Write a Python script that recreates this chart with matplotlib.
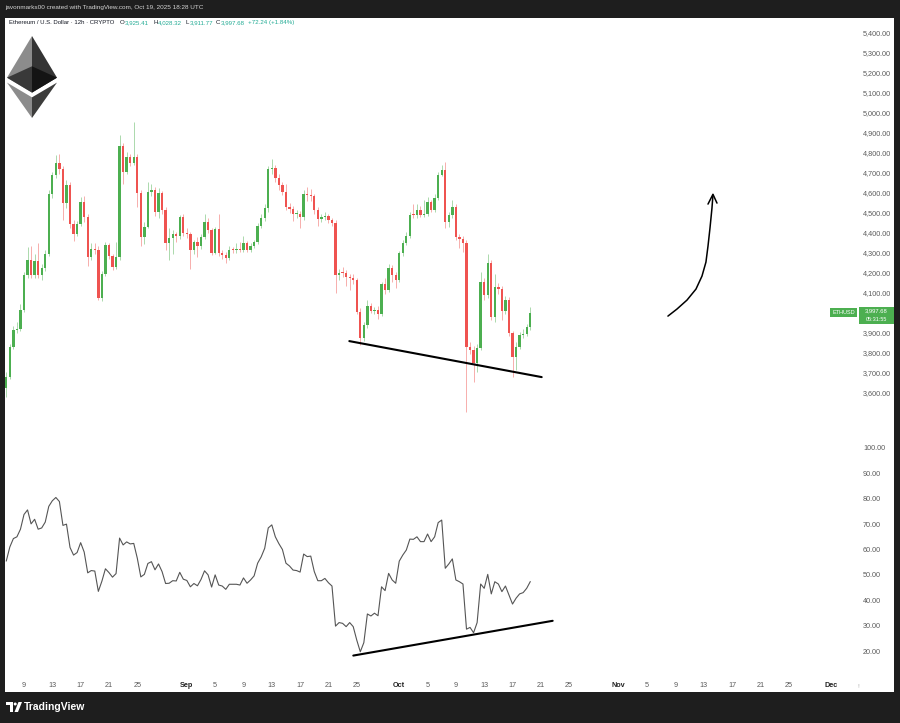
#!/usr/bin/env python3
"""ETH/USD 12h candles with RSI pane, TradingView-style snapshot."""

import matplotlib
matplotlib.use('Agg')
import matplotlib.pyplot as plt
from matplotlib.patches import Rectangle, Polygon, Circle
import numpy as np
import pandas as pd

plt.rcParams['font.family'] = ['Liberation Sans', 'DejaVu Sans']

# ---------------------------------------------------------------------------
# Data
# ---------------------------------------------------------------------------
FIRST_CANDLE = '2025-08-06 12:00'   # 12h candles
FIRST_OPEN = 3620

CLOSE = [3678, 3828, 3911, 3915, 4012, 4187, 4262, 4185, 4255, 4185,
         4220, 4292, 4590, 4687, 4748, 4715, 4548, 4637, 4441, 4391,
         4441, 4553, 4475, 4275, 4315, 4313, 4073, 4192, 4336, 4280,
         4225, 4275, 4831, 4703, 4778, 4745, 4778, 4598, 4375, 4428,
         4603, 4610, 4503, 4595, 4512, 4345, 4370, 4391, 4380, 4478,
         4395, 4390, 4312, 4350, 4330, 4375, 4452, 4410, 4298, 4418,
         4298, 4285, 4270, 4312, 4310, 4314, 4312, 4345, 4312, 4330,
         4350, 4430, 4470, 4520, 4715, 4720, 4670, 4637, 4603, 4528,
         4515, 4490, 4492, 4475, 4592, 4588, 4580, 4511, 4465, 4477,
         4480, 4462, 4448, 4187, 4198, 4196, 4175, 4170, 4160, 4003,
         3870, 3935, 4031, 4007, 4010, 3990, 4142, 4110, 4220, 4185,
         4160, 4294, 4345, 4382, 4487, 4485, 4513, 4487, 4490, 4553,
         4513, 4570, 4687, 4712, 4453, 4487, 4528, 4375, 4365, 4345,
         3828, 3810, 3745, 3820, 4153, 4085, 4245, 3975, 4128, 4115,
         4005, 4062, 3895, 3778, 3828, 3887, 3893, 3925.41, 3997.68]

HIGH = [3700, 3840, 3930, 3950, 4040, 4200, 4328, 4330, 4290, 4346,
        4240, 4310, 4610, 4700, 4786, 4790, 4730, 4660, 4650, 4460,
        4455, 4575, 4580, 4490, 4345, 4345, 4330, 4205, 4350, 4345,
        4290, 4350, 4886, 4845, 4800, 4790, 4953, 4790, 4610, 4450,
        4650, 4640, 4625, 4620, 4605, 4525, 4420, 4410, 4400, 4485,
        4490, 4420, 4400, 4360, 4375, 4390, 4490, 4470, 4420, 4425,
        4490, 4310, 4300, 4330, 4325, 4345, 4350, 4380, 4355, 4345,
        4360, 4445, 4490, 4540, 4730, 4765, 4735, 4690, 4650, 4640,
        4545, 4530, 4510, 4505, 4610, 4625, 4615, 4590, 4525, 4490,
        4500, 4490, 4470, 4460, 4215, 4225, 4210, 4190, 4190, 4170,
        4020, 3950, 4060, 4045, 4025, 4030, 4150, 4170, 4240, 4235,
        4200, 4305, 4360, 4400, 4500, 4540, 4540, 4530, 4560, 4575,
        4560, 4590, 4700, 4737, 4753, 4500, 4560, 4540, 4390, 4380,
        4360, 3850, 3830, 3840, 4200, 4170, 4290, 4260, 4190, 4145,
        4130, 4080, 4075, 3905, 3850, 3900, 3915, 3940, 4028.32]

LOW = [3578, 3665, 3815, 3895, 3905, 4000, 4170, 4170, 4170, 4170,
       4160, 4205, 4280, 4570, 4670, 4690, 4461, 4520, 4420, 4355,
       4380, 4430, 4450, 4231, 4260, 4290, 4060, 4055, 4180, 4265,
       4210, 4215, 4260, 4640, 4690, 4730, 4735, 4527, 4331, 4340,
       4420, 4580, 4480, 4470, 4490, 4310, 4260, 4290, 4350, 4365,
       4380, 4370, 4217, 4290, 4275, 4315, 4365, 4395, 4285, 4290,
       4280, 4265, 4245, 4260, 4295, 4295, 4300, 4300, 4300, 4300,
       4320, 4340, 4420, 4455, 4500, 4690, 4650, 4610, 4585, 4510,
       4495, 4455, 4470, 4420, 4460, 4555, 4555, 4490, 4430, 4450,
       4460, 4445, 4430, 4095, 4160, 4175, 4130, 4110, 4140, 3990,
       3836, 3855, 3920, 3995, 3990, 3965, 3980, 4090, 4100, 4150,
       4120, 4150, 4280, 4335, 4370, 4470, 4470, 4475, 4475, 4480,
       4500, 4500, 4560, 4680, 4420, 4425, 4470, 4360, 4320, 4300,
       3503, 3790, 3653, 3700, 3810, 4060, 4070, 3960, 3950, 4090,
       3960, 3990, 3880, 3678, 3710, 3815, 3870, 3880, 3911.77]

RSI = [55.5, 61.0, 64.3, 65.0, 68.0, 73.8, 75.6, 70.1, 71.9, 68.0,
       68.5, 70.8, 77.0, 79.2, 80.5, 78.9, 69.5, 70.0, 60.8, 57.8,
       58.8, 62.7, 59.0, 50.8, 51.7, 51.5, 43.5, 47.5, 52.4, 50.9,
       49.1, 50.5, 64.5, 61.8, 63.0, 62.2, 62.4, 56.6, 49.2, 50.2,
       54.5, 55.2, 52.0, 54.3, 51.3, 46.6, 46.7, 47.7, 47.6, 51.0,
       48.3, 47.8, 45.3, 46.6, 45.7, 48.2, 51.6, 50.0, 45.2, 50.0,
       46.0, 45.6, 44.3, 46.3, 46.3, 46.3, 46.0, 48.8, 46.7, 48.0,
       49.6, 54.6, 57.1, 60.5, 68.5, 69.7, 65.0, 62.3, 60.0, 54.6,
       53.5, 51.9, 51.7, 51.1, 58.2, 57.2, 57.4, 51.3, 47.7, 47.7,
       48.6, 46.9, 45.6, 29.8, 31.2, 30.9, 29.6, 31.2, 29.6, 24.3,
       19.7, 23.3, 34.6, 33.8, 34.9, 33.9, 45.3, 43.8, 50.6, 48.0,
       46.7, 55.4, 57.8, 59.8, 64.1, 64.0, 65.0, 63.1, 63.1, 66.1,
       63.1, 65.0, 70.6, 71.6, 52.6, 54.3, 56.3, 48.0, 47.3, 46.4,
       28.6, 29.3, 27.2, 31.2, 46.4, 44.7, 50.2, 42.5, 47.3, 46.4,
       43.4, 45.6, 42.1, 38.5, 40.8, 42.5, 43.0, 44.7, 47.3]

# 4,000 is hidden behind the last-price tag on the original
PRICE_TICKS = [3600, 3700, 3800, 3900, 4100, 4200, 4300, 4400, 4500, 4600,
               4700, 4800, 4900, 5000, 5100, 5200, 5300, 5400]
RSI_TICKS = [20, 30, 40, 50, 60, 70, 80, 90, 100]

TICK_DATES = ['2025-08-09', '2025-08-13', '2025-08-17', '2025-08-21', '2025-08-25',
              '2025-09-01', '2025-09-05', '2025-09-09', '2025-09-13', '2025-09-17',
              '2025-09-21', '2025-09-25', '2025-10-01', '2025-10-05', '2025-10-09',
              '2025-10-13', '2025-10-17', '2025-10-21', '2025-10-25', '2025-11-01',
              '2025-11-05', '2025-11-09', '2025-11-13', '2025-11-17', '2025-11-21',
              '2025-11-25', '2025-12-01']
TICK_LABELS = ['9', '13', '17', '21', '25', 'Sep', '5', '9', '13', '17', '21', '25',
               'Oct', '5', '9', '13', '17', '21', '25', 'Nov', '5', '9', '13', '17',
               '21', '25', 'Dec']
MONTHS = {'Sep', 'Oct', 'Nov', 'Dec'}

# drawings (x in days since 2025-08-01 00:00 UTC)
PRICE_TREND_DAY = [53.95, 81.12]
PRICE_TREND_VAL = [3856, 3676]
RSI_TREND_DAY = [54.51, 82.67]
RSI_TREND_VAL = [18.2, 31.9]
ARROW_DAY = [98.95, 100.22, 101.64, 102.91, 103.76, 104.32, 104.61, 104.89, 105.17, 105.31]
ARROW_VAL = [3981, 4016, 4061, 4116, 4181, 4251, 4331, 4421, 4521, 4586]
ARROW_HEAD_DAY = [104.61, 105.31, 105.88]
ARROW_HEAD_VAL = [4541, 4590, 4546]

HEADER = 'Ethereum / U.S. Dollar · 12h · CRYPTO'
OHLC_NAMES = ['O', 'H', 'L', 'C']
OHLC_TEXT = ['3,925.41', '4,028.32', '3,911.77', '3,997.68']
CHANGE_TEXT = '+72.24 (+1.84%)'
STAMP = 'javonmarks00 created with TradingView.com, Oct 19, 2025 18:28 UTC'

# ---------------------------------------------------------------------------
# Styling
# ---------------------------------------------------------------------------
UP = '#4caf50'
DOWN = '#ef5350'
TEAL = '#22ab94'
FRAME = '#1e1e1e'
LABEL = '#5a5a5a'
W, H = 900, 723
EPOCH = pd.Timestamp('2025-08-01')


def day(ts):
    return (pd.to_datetime(ts) - EPOCH) / pd.Timedelta(days=1)


def rect(x0, y0, x1, y1):
    # pixel box (origin top-left) -> figure fraction
    return [x0 / W, 1 - y1 / H, (x1 - x0) / W, (y1 - y0) / H]


def pixel_axes(z):
    a = fig.add_axes([0, 0, 1, 1], zorder=z)
    a.set_xlim(0, W)
    a.set_ylim(H, 0)
    a.axis('off')
    a.patch.set_visible(False)
    return a


fig = plt.figure(figsize=(W / 100, H / 100), dpi=100, facecolor=FRAME)

# background canvas in pixel coordinates
bg = pixel_axes(0)
bg.add_patch(Rectangle((5, 18), 889, 674, facecolor='white', edgecolor='none'))

# pixel <-> day mapping: Aug 9 sits at x=24, 7.08 px per day
x_lo = day('2025-08-09') - 19 / 7.08
x_hi = day('2025-08-09') + 836 / 7.08

ax = fig.add_axes(rect(5, 18, 860, 440), zorder=2)
axr = fig.add_axes(rect(5, 440, 860, 676), zorder=2, sharex=ax)
for a in (ax, axr):
    a.set_facecolor('none')
    for s in a.spines.values():
        s.set_visible(False)
    a.yaxis.tick_right()
    a.tick_params(axis='y', length=0, pad=2.2, labelsize=5.2, labelcolor=LABEL)

# ---------------------------------------------------------------------------
# Candles
# ---------------------------------------------------------------------------
close = np.array(CLOSE, dtype=float)
opens = np.r_[FIRST_OPEN, close[:-1]]
high = np.array(HIGH, dtype=float)
low = np.array(LOW, dtype=float)
times = pd.date_range(FIRST_CANDLE, periods=len(close), freq='12h')
xs = day(times).values
cols = np.where(close >= opens, UP, DOWN)

ax.vlines(xs, low, high, colors=cols, linewidth=0.6, alpha=0.55, zorder=2)
ax.bar(xs, np.maximum(np.abs(close - opens), 4), bottom=np.minimum(opens, close),
       width=0.33, color=cols, linewidth=0, zorder=3)

ax.plot(PRICE_TREND_DAY, PRICE_TREND_VAL, color='black', lw=1.5, solid_capstyle='round', zorder=4)
ax.plot(ARROW_DAY, ARROW_VAL, color='black', lw=1.1, solid_capstyle='round', zorder=4)
ax.plot(ARROW_HEAD_DAY, ARROW_HEAD_VAL, color='black', lw=1.1, solid_capstyle='round',
        solid_joinstyle='round', zorder=4)

ax.set_xlim(x_lo, x_hi)
ax.set_ylim(3361.5, 5471.5)
ax.set_yticks(PRICE_TICKS)
ax.set_yticklabels([f'{v:,.2f}' for v in PRICE_TICKS])
ax.tick_params(axis='x', bottom=False, labelbottom=False)

# ---------------------------------------------------------------------------
# RSI pane
# ---------------------------------------------------------------------------
axr.plot(xs, RSI, color='#555555', lw=0.8, zorder=3)
axr.plot(RSI_TREND_DAY, RSI_TREND_VAL, color='black', lw=1.5, solid_capstyle='round', zorder=4)
axr.set_ylim(10.15, 103.15)
axr.set_yticks(RSI_TICKS)
axr.set_yticklabels([f'{v:.2f}' for v in RSI_TICKS])
axr.set_xticks(day(TICK_DATES))
axr.set_xticklabels(TICK_LABELS)
axr.tick_params(axis='x', length=0, pad=4.5, labelsize=5.2, labelcolor=LABEL)
for t in axr.get_xticklabels():
    if t.get_text() in MONTHS:
        t.set_fontweight('bold')
        t.set_color('#222222')
bg.text(858, 686, '!', fontsize=4.5, color='#aaaaaa', ha='center', va='center')

# ---------------------------------------------------------------------------
# Price tags on the right scale (drawn above the chart panes)
# ---------------------------------------------------------------------------
top = pixel_axes(5)
y_last = H - ax.transData.transform((x_lo, close[-1]))[1]
top.add_patch(Rectangle((830, y_last - 4.5), 27, 9, facecolor=UP, edgecolor='none'))
top.text(843.5, y_last, 'ETHUSD', fontsize=4, color='white', ha='center', va='center')
top.add_patch(Rectangle((859, y_last - 6), 35, 17, facecolor=UP, edgecolor='none'))
top.text(876.5, y_last - 1.8, OHLC_TEXT[-1], fontsize=4.2, color='white', ha='center', va='center')
top.text(876.5, y_last + 6.3, '05:31:55', fontsize=4.0, color='white', ha='center', va='center')

# ---------------------------------------------------------------------------
# Header texts
# ---------------------------------------------------------------------------
rend = fig.canvas.get_renderer()
bg.text(5, 8, STAMP, fontsize=4.6, color='#d4d4d4', va='center', ha='left')
bg.text(9, 22.5, HEADER, fontsize=4.3, color='#131722', va='center', ha='left')
for lx, name, val in zip([120, 153, 186, 216], OHLC_NAMES, OHLC_TEXT):
    t = bg.text(lx, 22.5, name, fontsize=4.4, color='#131722', va='center', ha='left')
    w = t.get_window_extent(renderer=rend).width
    bg.text(lx + w, 22.5, val, fontsize=4.4, color=TEAL, va='center', ha='left')
bg.text(248, 22.5, CHANGE_TEXT, fontsize=4.4, color=TEAL, va='center', ha='left')

# Ethereum logo (official proportions scaled into the corner)
def eth(pts):
    return [(7 + px * 0.1953, 36 + py * 0.1966) for px, py in pts]

faces = [
    ([(128, 0), (128, 288), (256, 212)], '#343434'),
    ([(128, 0), (0, 212), (128, 288)], '#8c8c8c'),
    ([(128, 312), (128, 417), (256, 237)], '#3c3c3b'),
    ([(128, 417), (128, 312), (0, 237)], '#8c8c8c'),
    ([(128, 288), (256, 212), (128, 154)], '#141414'),
    ([(0, 212), (128, 288), (128, 154)], '#393939'),
]
for pts, c in faces:
    bg.add_patch(Polygon(eth(pts), closed=True, facecolor=c, edgecolor='none', zorder=1))

# TradingView footer mark
bg.add_patch(Rectangle((6, 702), 7, 3, facecolor='white', edgecolor='none'))
bg.add_patch(Rectangle((9.5, 702), 3, 10, facecolor='white', edgecolor='none'))
bg.add_patch(Circle((15.2, 704), 1.5, facecolor='white', edgecolor='none'))
bg.add_patch(Polygon([(14.5, 712), (18.5, 702), (22, 702), (18, 712)], closed=True,
                     facecolor='white', edgecolor='none'))
bg.text(24, 707.5, 'TradingView', fontsize=7.5, fontweight='bold', color='white',
        va='center', ha='left')

fig.savefig('out.png', dpi=100, facecolor=FRAME)
print('saved out.png')
